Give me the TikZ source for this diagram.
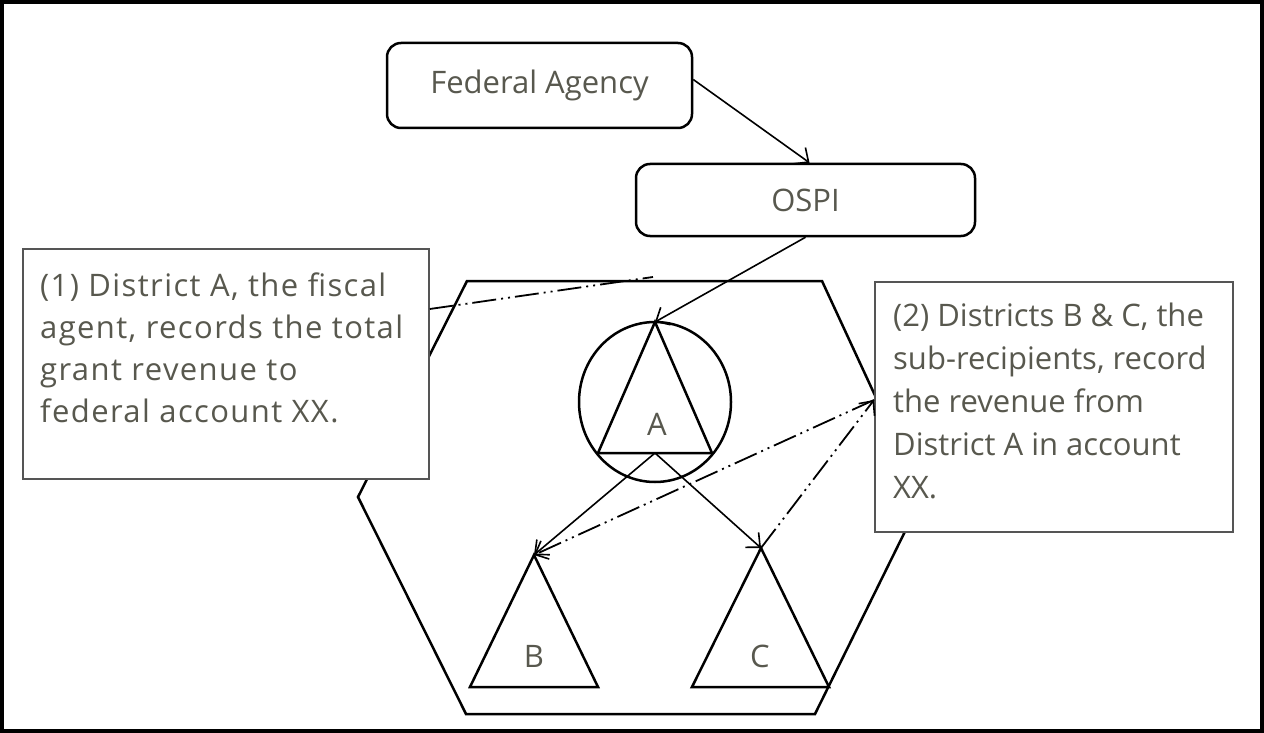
\documentclass[tikz,border=0pt]{standalone}
\usepackage{fontspec}
\setmainfont{Open Sans}
\usetikzlibrary{arrows.meta}
\definecolor{txt}{RGB}{88,88,78}
\definecolor{cbox}{RGB}{85,85,85}
\tikzset{
  rbox/.style={draw=black, line width=2.5pt, rounded corners=14pt, fill=white, text=txt, font=\fontsize{31}{36}\selectfont, inner sep=0pt},
  callout/.style={draw=cbox, line width=1.8pt, fill=white, inner sep=0pt},
  ctext/.style={text=txt, align=left, inner sep=0pt, anchor=north west},
  shapeline/.style={line width=2.5pt, line join=miter},
  conn/.style={line width=1.6pt, -{Straight Barb[length=11pt,width=20pt,line width=1.6pt]}},
  dashdot/.style={line width=1.8pt, dash pattern=on 24pt off 5pt on 2pt off 5pt on 2pt off 5pt},
  dtip/.style={-{Straight Barb[length=11pt,width=20pt,line width=1.6pt]}},
  lbl/.style={text=txt, font=\fontsize{31}{36}\selectfont, inner sep=0pt}
}
\begin{document}
\begin{tikzpicture}[x=1pt,y=-1pt]
\useasboundingbox (0,0) rectangle (1264,733);
\draw[line width=4pt] (2,2) rectangle (1262,731);
% hexagon
\draw[shapeline] (467,281) -- (822,281) -- (922,497) -- (815,714) -- (466,714) -- (358,497) -- cycle;
% circle and triangles
\draw[shapeline] (655,402) ellipse [x radius=76pt, y radius=80pt];
\coordinate (Atop) at (655,322);
\coordinate (Abot) at (655,453);
\coordinate (Btop) at (534,555);
\coordinate (Ctop) at (761,548);
\draw[shapeline] (Atop) -- (712,453) -- (598,453) -- cycle;
\draw[shapeline] (Btop) -- (598,687) -- (470,687) -- cycle;
\draw[shapeline] (Ctop) -- (829,687) -- (692,687) -- cycle;
\node[lbl] (la) at (657,424) {A};
\node[lbl] (lb) at (534,656) {B};
\node[lbl] (lc) at (760,656) {C};
% top boxes
\node[rbox, minimum width=305pt, minimum height=85pt] (fa) at (539.5,85.5) {Federal Agency};
\node[rbox, minimum width=339pt, minimum height=72pt] (ospi) at (805.5,200) {OSPI};
% callouts
\node[callout, minimum width=406pt, minimum height=230pt, anchor=north west] (c1) at (22,248) {};
\node[ctext, font=\fontsize{31}{42}\selectfont\addfontfeature{LetterSpace=4.5}] (c1t) at ([xshift=18pt,yshift=-25pt]c1.north west) {(1) District A, the fiscal\\agent, records the total\\grant revenue to\\federal account XX.};
\node[callout, minimum width=358pt, minimum height=250pt, anchor=north west] (c2) at (874,281) {};
\node[ctext, font=\fontsize{31}{43}\selectfont] (c2t) at ([xshift=19pt,yshift=-22pt]c2.north west) {(2) Districts B \& C, the\\sub-recipients, record\\the revenue from\\District A in account\\XX.};
% connectors
\draw[conn] ([yshift=6pt]fa.east) -- ([xshift=4pt]ospi.north);
\draw[conn] (ospi.south) -- (Atop);
\draw[conn] (Abot) -- (Btop);
\draw[conn] (Abot) -- (Ctop);
\coordinate (p1) at (653,277);
\draw[dashdot] ([yshift=-61pt]c1.north east) -- (p1);
\coordinate (c2in) at ([yshift=-119pt]c2.north west);
\draw[dashdot, dtip] (c2in) -- (Btop);
\draw[dashdot, dtip] (Ctop) -- (c2in);
\end{tikzpicture}
\end{document}
